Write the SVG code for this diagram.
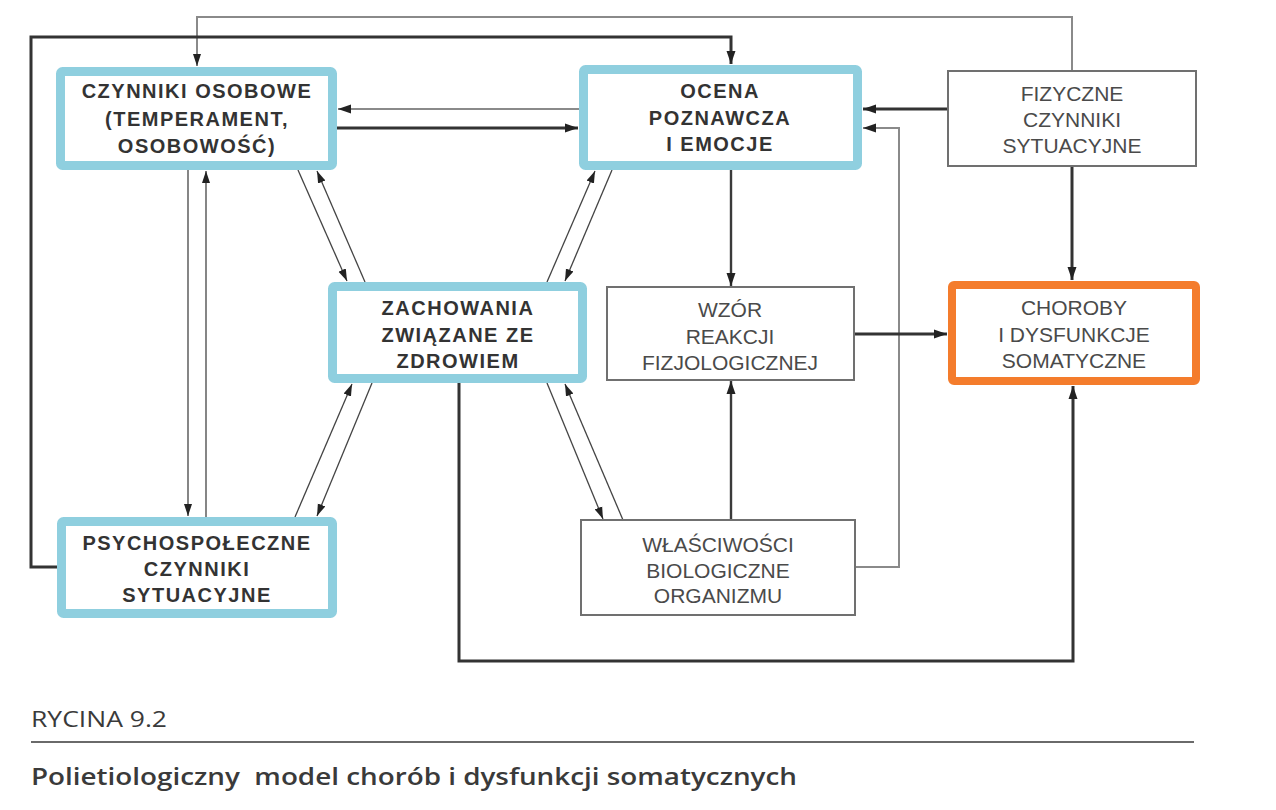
<svg xmlns="http://www.w3.org/2000/svg" width="1276" height="810" viewBox="0 0 1276 810">
<style>
.bg{fill:#ffffff}
.blue{fill:#ffffff;stroke:#8fcfdf;stroke-width:9}
.orange{fill:#ffffff;stroke:#f47c2c;stroke-width:8}
.gray{fill:#ffffff;stroke:#707070;stroke-width:2}
.tb{font-family:"Liberation Sans",Arial,sans-serif;font-weight:bold;font-size:20px;letter-spacing:1.5px;fill:#333333;text-anchor:middle}
.tr{font-family:"Liberation Sans",Arial,sans-serif;font-size:21px;fill:#4a4a4a;text-anchor:middle}
.thick{fill:none;stroke:#333333;stroke-width:3}
.med{fill:none;stroke:#3a3a3a;stroke-width:2.4}
.lgray{fill:none;stroke:#8a8a8a;stroke-width:2}
.thin{fill:none;stroke:#444444;stroke-width:1.3}
.cap{font-family:"Open Sans","Noto Sans","Liberation Sans",sans-serif;fill:#3a3a3a}
</style>
<defs>
<marker id="ah" markerUnits="userSpaceOnUse" markerWidth="14" markerHeight="10" refX="13" refY="5" orient="auto">
<path d="M0,0.5 L13,5 L0,9.5 z" fill="#222222"/>
</marker>
<marker id="ahs" markerUnits="userSpaceOnUse" markerWidth="13" markerHeight="9" refX="12" refY="4.5" orient="auto">
<path d="M0,0.5 L12,4.5 L0,8.5 z" fill="#222222"/>
</marker>
</defs>
<rect class="bg" x="0" y="0" width="1276" height="810"/>

<g id="connectors">
<path class="lgray" d="M1072,71 V17 H197 V66" marker-end="url(#ahs)"/>
<path class="thick" d="M57,567 H31 V37 H731 V64" marker-end="url(#ah)"/>
<path class="lgray" d="M579,109 H338" marker-end="url(#ah)"/>
<path class="thick" d="M337,128 H578" marker-end="url(#ah)"/>
<path class="thick" d="M948,109 H863" marker-end="url(#ah)"/>
<path class="lgray" d="M855,567 H899 V128 H863" marker-end="url(#ah)"/>
<path class="thick" d="M1072,166 V280" marker-end="url(#ah)"/>
<path class="med" d="M731,170 V286" marker-end="url(#ah)"/>
<path class="thick" d="M854,334 H947" marker-end="url(#ah)"/>
<path class="med" d="M731,520 V381" marker-end="url(#ah)"/>
<path class="thick" d="M459,383 V661 H1073 V386" marker-end="url(#ah)"/>
<path class="thin" d="M188,170 V516" marker-end="url(#ahs)"/>
<path class="thin" d="M206,517 V171" marker-end="url(#ahs)"/>
<path class="thin" d="M298,170 L347,281" marker-end="url(#ahs)"/>
<path class="thin" d="M365,282 L317,171" marker-end="url(#ahs)"/>
<path class="thin" d="M547,282 L595,171" marker-end="url(#ahs)"/>
<path class="thin" d="M612,170 L565,281" marker-end="url(#ahs)"/>
<path class="thin" d="M295,517 L352,384" marker-end="url(#ahs)"/>
<path class="thin" d="M372,383 L317,516" marker-end="url(#ahs)"/>
<path class="thin" d="M547,383 L603,519" marker-end="url(#ahs)"/>
<path class="thin" d="M623,520 L565,384" marker-end="url(#ahs)"/>
</g>

<g id="czynniki-osobowe">
<rect class="blue" x="60.5" y="71.5" width="272" height="94" rx="2"/>
<text class="tb" x="197" y="98">CZYNNIKI OSOBOWE</text>
<text class="tb" x="197" y="126">(TEMPERAMENT,</text>
<text class="tb" x="197" y="153">OSOBOWOŚĆ)</text>
</g>

<g id="ocena">
<rect class="blue" x="583.5" y="69.5" width="274" height="96" rx="2"/>
<text class="tb" x="720" y="98">OCENA</text>
<text class="tb" x="720" y="125">POZNAWCZA</text>
<text class="tb" x="720" y="151">I EMOCJE</text>
</g>

<g id="fizyczne">
<rect class="gray" x="948" y="71" width="248" height="95"/>
<text class="tr" x="1072" y="101">FIZYCZNE</text>
<text class="tr" x="1072" y="127">CZYNNIKI</text>
<text class="tr" x="1072" y="153">SYTUACYJNE</text>
</g>

<g id="zachowania">
<rect class="blue" x="332.5" y="286.5" width="250" height="92" rx="2"/>
<text class="tb" x="458" y="315">ZACHOWANIA</text>
<text class="tb" x="458" y="342">ZWIĄZANE ZE</text>
<text class="tb" x="458" y="368">ZDROWIEM</text>
</g>

<g id="wzor">
<rect class="gray" x="607" y="287" width="247" height="93"/>
<text class="tr" x="730" y="317">WZÓR</text>
<text class="tr" x="730" y="344">REAKCJI</text>
<text class="tr" x="730" y="370">FIZJOLOGICZNEJ</text>
</g>

<g id="choroby">
<rect class="orange" x="952" y="285" width="244" height="96" rx="2"/>
<text class="tr" x="1074" y="315">CHOROBY</text>
<text class="tr" x="1074" y="342">I DYSFUNKCJE</text>
<text class="tr" x="1074" y="368">SOMATYCZNE</text>
</g>

<g id="psychospoleczne">
<rect class="blue" x="61.5" y="521.5" width="271" height="92" rx="2"/>
<text class="tb" x="197" y="550">PSYCHOSPOŁECZNE</text>
<text class="tb" x="197" y="576">CZYNNIKI</text>
<text class="tb" x="197" y="602">SYTUACYJNE</text>
</g>

<g id="wlasciwosci">
<rect class="gray" x="581" y="520" width="274" height="95"/>
<text class="tr" x="718" y="552">WŁAŚCIWOŚCI</text>
<text class="tr" x="718" y="578">BIOLOGICZNE</text>
<text class="tr" x="718" y="603">ORGANIZMU</text>
</g>

<g id="caption">
<text class="cap" x="31" y="727" font-size="21" textLength="136" lengthAdjust="spacingAndGlyphs">RYCINA 9.2</text>
<line x1="31" y1="742" x2="1194" y2="742" stroke="#6a6a6a" stroke-width="2"/>
<text class="cap" x="31" y="785" font-size="24" font-weight="600" textLength="766" lengthAdjust="spacingAndGlyphs" xml:space="preserve">Polietiologiczny  model chorób i dysfunkcji somatycznych</text>
</g>
</svg>
